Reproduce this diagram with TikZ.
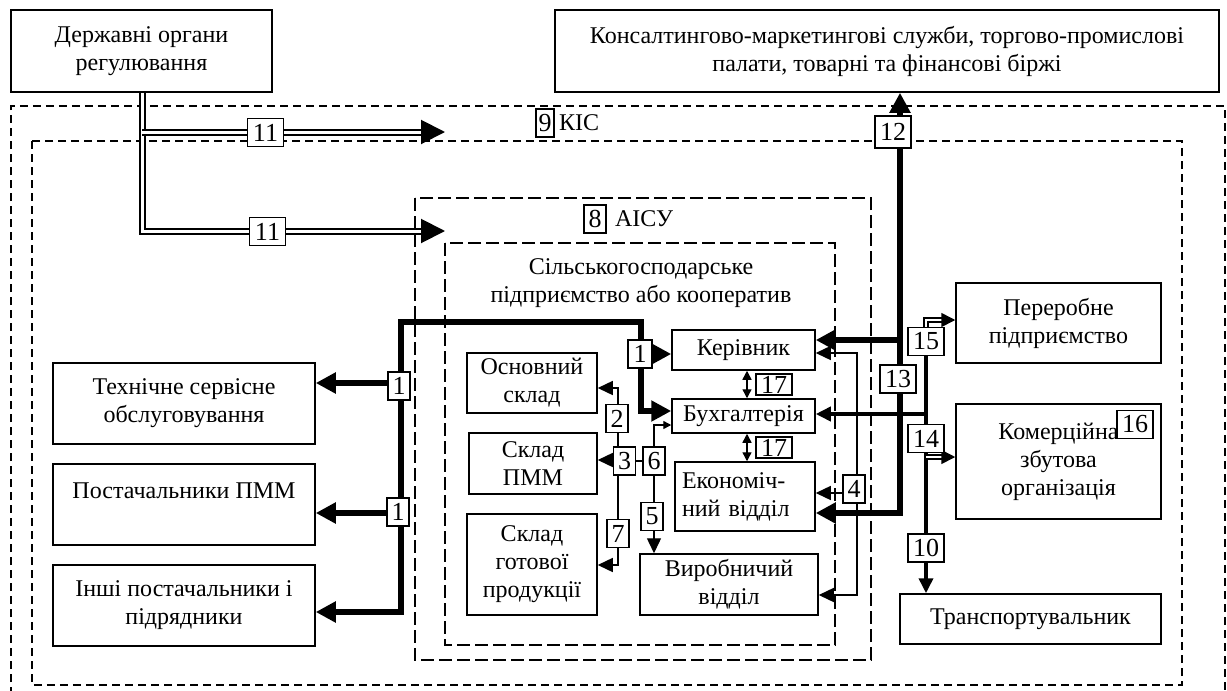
\documentclass[tikz,border=0pt]{standalone}
\usepackage{fontspec}
\setmainfont{Liberation Serif}
\usetikzlibrary{arrows.meta, positioning}
\tikzset{
  box/.style={rectangle, draw, line width=0.75pt, align=center, inner sep=2pt,
              font=\fontsize{12}{14}\selectfont},
  num/.style={rectangle, draw, fill=white, line width=0.75pt, inner sep=0pt,
              minimum width=11pt, minimum height=14pt, font=\fontsize{13}{14}\selectfont},
  num2/.style={num, minimum width=18pt},
  txt/.style={align=center, inner sep=0pt, font=\fontsize{12}{14}\selectfont},
  dashbox/.style={draw, line width=0.9pt, dash pattern=on 4pt off 2.5pt},
  dashboxl/.style={draw, line width=0.9pt, dash pattern=on 6.5pt off 2.5pt},
  flowk/.style={line width=2.6pt, -{Triangle[length=10pt, width=10pt]}},
  flowkk/.style={line width=2.6pt, {Triangle[length=10pt, width=10pt]}-{Triangle[length=10pt, width=10pt]}},
  flowm/.style={line width=1.8pt, -{Triangle[length=7.5pt, width=7pt]}},
  flowt/.style={line width=0.7pt, -{Triangle[length=7.5pt, width=7pt]}},
  flowtt/.style={line width=0.7pt, {Triangle[length=7.5pt, width=7pt]}-{Triangle[length=7.5pt, width=7pt]}},
  flowx/.style={line width=0.7pt, -{Triangle[length=4pt, width=4pt]}},
  flowxx/.style={line width=0.7pt, {Triangle[length=4.5pt, width=4.5pt]}-{Triangle[length=4.5pt, width=4.5pt]}},
  flowd/.style={double, line width=1pt, double distance=1.5pt, -{Triangle[length=12pt, width=12pt]}},
  flowdb/.style={double, line width=0.8pt, double distance=1.2pt, -{Triangle[length=7pt, width=7pt]}},
}

\begin{document}
\begin{tikzpicture}[x=0.5pt, y=-0.5pt]
  \useasboundingbox (0,0) rectangle (1227,691);

  % frames: KIS, AISU, enterprise
  \draw[dashbox] (11,695) -- (11,106) -- (1225,106) -- (1225,695);
  \draw[dashbox] (32,141) rectangle (1182,685);
  \draw[dashboxl] (415,198) rectangle (871,660);
  \draw[dashboxl] (445,243) rectangle (835,645);

  % outside boxes
  \node[box, minimum width=130.5pt, minimum height=41pt] (gov) at (141.5,51) {Державні органи\\регулювання};
  \node[box, minimum width=332pt, minimum height=41pt] (cons) at (887,51) {Консалтингово-маркетингові служби, торгово-промислові\\палати, товарні та фінансові біржі};
  \node[box, minimum width=131pt, minimum height=40.5pt] (tech) at (184,403.5) {Технічне сервісне\\обслуговування};
  \node[box, minimum width=131pt, minimum height=40.5pt] (post) at (184,504.5) {Постачальники ПММ\\\mbox{}};
  \node[box, minimum width=131pt, minimum height=40.5pt] (inshi) at (184,605.5) {Інші постачальники і\\підрядники};
  \node[box, minimum width=102.5pt, minimum height=40pt] (pere) at (1058.5,323) {Переробне\\підприємство};
  \node[box, minimum width=102.5pt, minimum height=57.5pt] (kom) at (1058.5,461.5) {Комерційна\\збутова\\організація};
  \node[box, minimum width=130.5pt, minimum height=25pt] (tra) at (1030.5,619) {Транспортувальник};

  % enterprise
  \node[txt] (ent) at (641,283) {Сільськогосподарське\\підприємство або кооператив};
  \node[box, minimum width=71.5pt, minimum height=20pt] (ker) at (743.5,350) {Керівник};
  \node[box, minimum width=71.5pt, minimum height=17pt] (buh) at (743.5,416) {Бухгалтерія};
  \node[box, minimum width=70pt, minimum height=34.5pt, text width=63pt, inner xsep=3.5pt, align=left] (ekon) at (745,496.5) {Економіч-\\ний відділ};
  \node[box, minimum width=89pt, minimum height=30.5pt] (vyr) at (729,584.5) {Виробничий\\відділ};
  \node[box, minimum width=65pt, minimum height=30pt] (osn) at (532,383) {Основний\\склад};
  \node[box, minimum width=64pt, minimum height=30.5pt] (pmm) at (533,463.5) {Склад\\ПММ};
  \node[box, minimum width=65pt, minimum height=50.5pt] (got) at (532,564.5) {Склад\\готової\\продукції};

  % junctions
  \coordinate (n11a) at (142,132);
  \coordinate (n11b) at (142,231);
  \coordinate (t11a) at (445,132);
  \coordinate (t11b) at (445,231);
  \coordinate (n1a) at (401,612);
  \coordinate (n1b) at (401,322);
  \coordinate (n1c) at (641,322);
  \coordinate (n1d) at (641,411);
  \coordinate (n1e) at (401,383);
  \coordinate (n1f) at (401,513);
  \coordinate (n1g) at (641,354);
  \coordinate (n13a) at (900,513);
  \coordinate (n13b) at (900,340);
  \coordinate (n4a) at (857,353);
  \coordinate (n4b) at (857,595);
  \coordinate (n4c) at (857,493);
  \coordinate (n14a) at (926,414);
  \coordinate (n14b) at (926,457);
  \coordinate (n15) at (926,320);
  \coordinate (n2a) at (618,388);
  \coordinate (n2b) at (618,565);
  \coordinate (n3) at (618,460);
  \coordinate (n6a) at (654,425);
  \coordinate (n17) at (747,0);
  \coordinate (c3) at (624.5,461);
  \coordinate (c6) at (654,461);
  \coordinate (c15) at (926,341.5);

  % connectors
  \draw[flowd] (gov.south -| n11b) -- (n11b) -- (t11b);
  \draw[flowd] (n11a) -- (t11a);
  \draw[flowkk] (inshi.east |- n1a) -- (n1a) -- (n1b) -- (n1c) -- (n1d) -- (buh.west |- n1d);
  \draw[flowk] (n1e) -- (tech.east |- n1e);
  \draw[flowk] (n1f) -- (post.east |- n1f);
  \draw[flowk] (n1g) -- (ker.west |- n1g);
  \draw[flowkk] (ekon.east |- n13a) -- (n13a) -- (cons.south -| n13a);
  \draw[flowk] (n13b) -- (ker.east |- n13b);
  \draw[flowtt] (ker.east |- n4a) -- (n4a) -- (n4b) -- (vyr.east |- n4b);
  \draw[flowt] (n4c) -- (ekon.east |- n4c);
  \draw[flowm] (c15) -- (tra.north -| c15);
  \draw[flowm] (n14a) -- (buh.east |- n14a);
  \draw[flowdb] (c15) -- (n15) -- (pere.west |- n15);
  \draw[flowdb] (n14b) -- (kom.west |- n14b);
  \draw[flowtt] (osn.east |- n2a) -- (n2a) -- (n2b) -- (got.east |- n2b);
  \draw[flowt] (n3) -- (pmm.east |- n3);
  \draw[line width=0.7pt] (c3) -- (c6);
  \draw[flowx] (c6) -- (n6a) -- (buh.west |- n6a);
  \draw[flowt] (c6) -- (vyr.north -| c6);
  \draw[flowxx] (ker.south -| n17) -- (buh.north -| n17);
  \draw[flowxx] (buh.south -| n17) -- (ekon.north -| n17);

  % numbers
  \node[num2] (l11a) at (265.5,132.5) {11};
  \node[num2] (l11b) at (267.5,231.5) {11};
  \node[num2, minimum height=16pt] (l12) at (893,132) {12};
  \node[num2] (l13) at (898,379) {13};
  \node[num] (l1a) at (399,386) {1};
  \node[num] (l1b) at (398,512) {1};
  \node[num, minimum width=12pt] (l1c) at (640,354) {1};
  \node[num] (l2) at (617,418.5) {2};
  \node[num] (l3) at (c3) {3};
  \node[num] (l6) at (c6) {6};
  \node[num] (l5) at (652,516.5) {5};
  \node[num] (l7) at (618,533.5) {7};
  \node[num] (l4) at (854,489) {4};
  \node[num2, minimum height=10.5pt] (l17a) at (774,384.5) {17};
  \node[num2, minimum height=10.5pt] (l17b) at (774,447.5) {17};
  \node[num2] (l15) at (c15) {15};
  \node[num2] (l14) at (926,438.5) {14};
  \node[num2] (l10) at (926,548) {10};
  \node[num2] (l16) at (1135,424.5) {16};
  \node[num, minimum width=9pt] (l9) at (545,123) {9};
  \node[txt, right=2pt of l9] (kis) {КІС};
  \node[num] (l8) at (595,219) {8};
  \node[txt, right=4pt of l8] (aisu) {АІСУ};
\end{tikzpicture}
\end{document}
